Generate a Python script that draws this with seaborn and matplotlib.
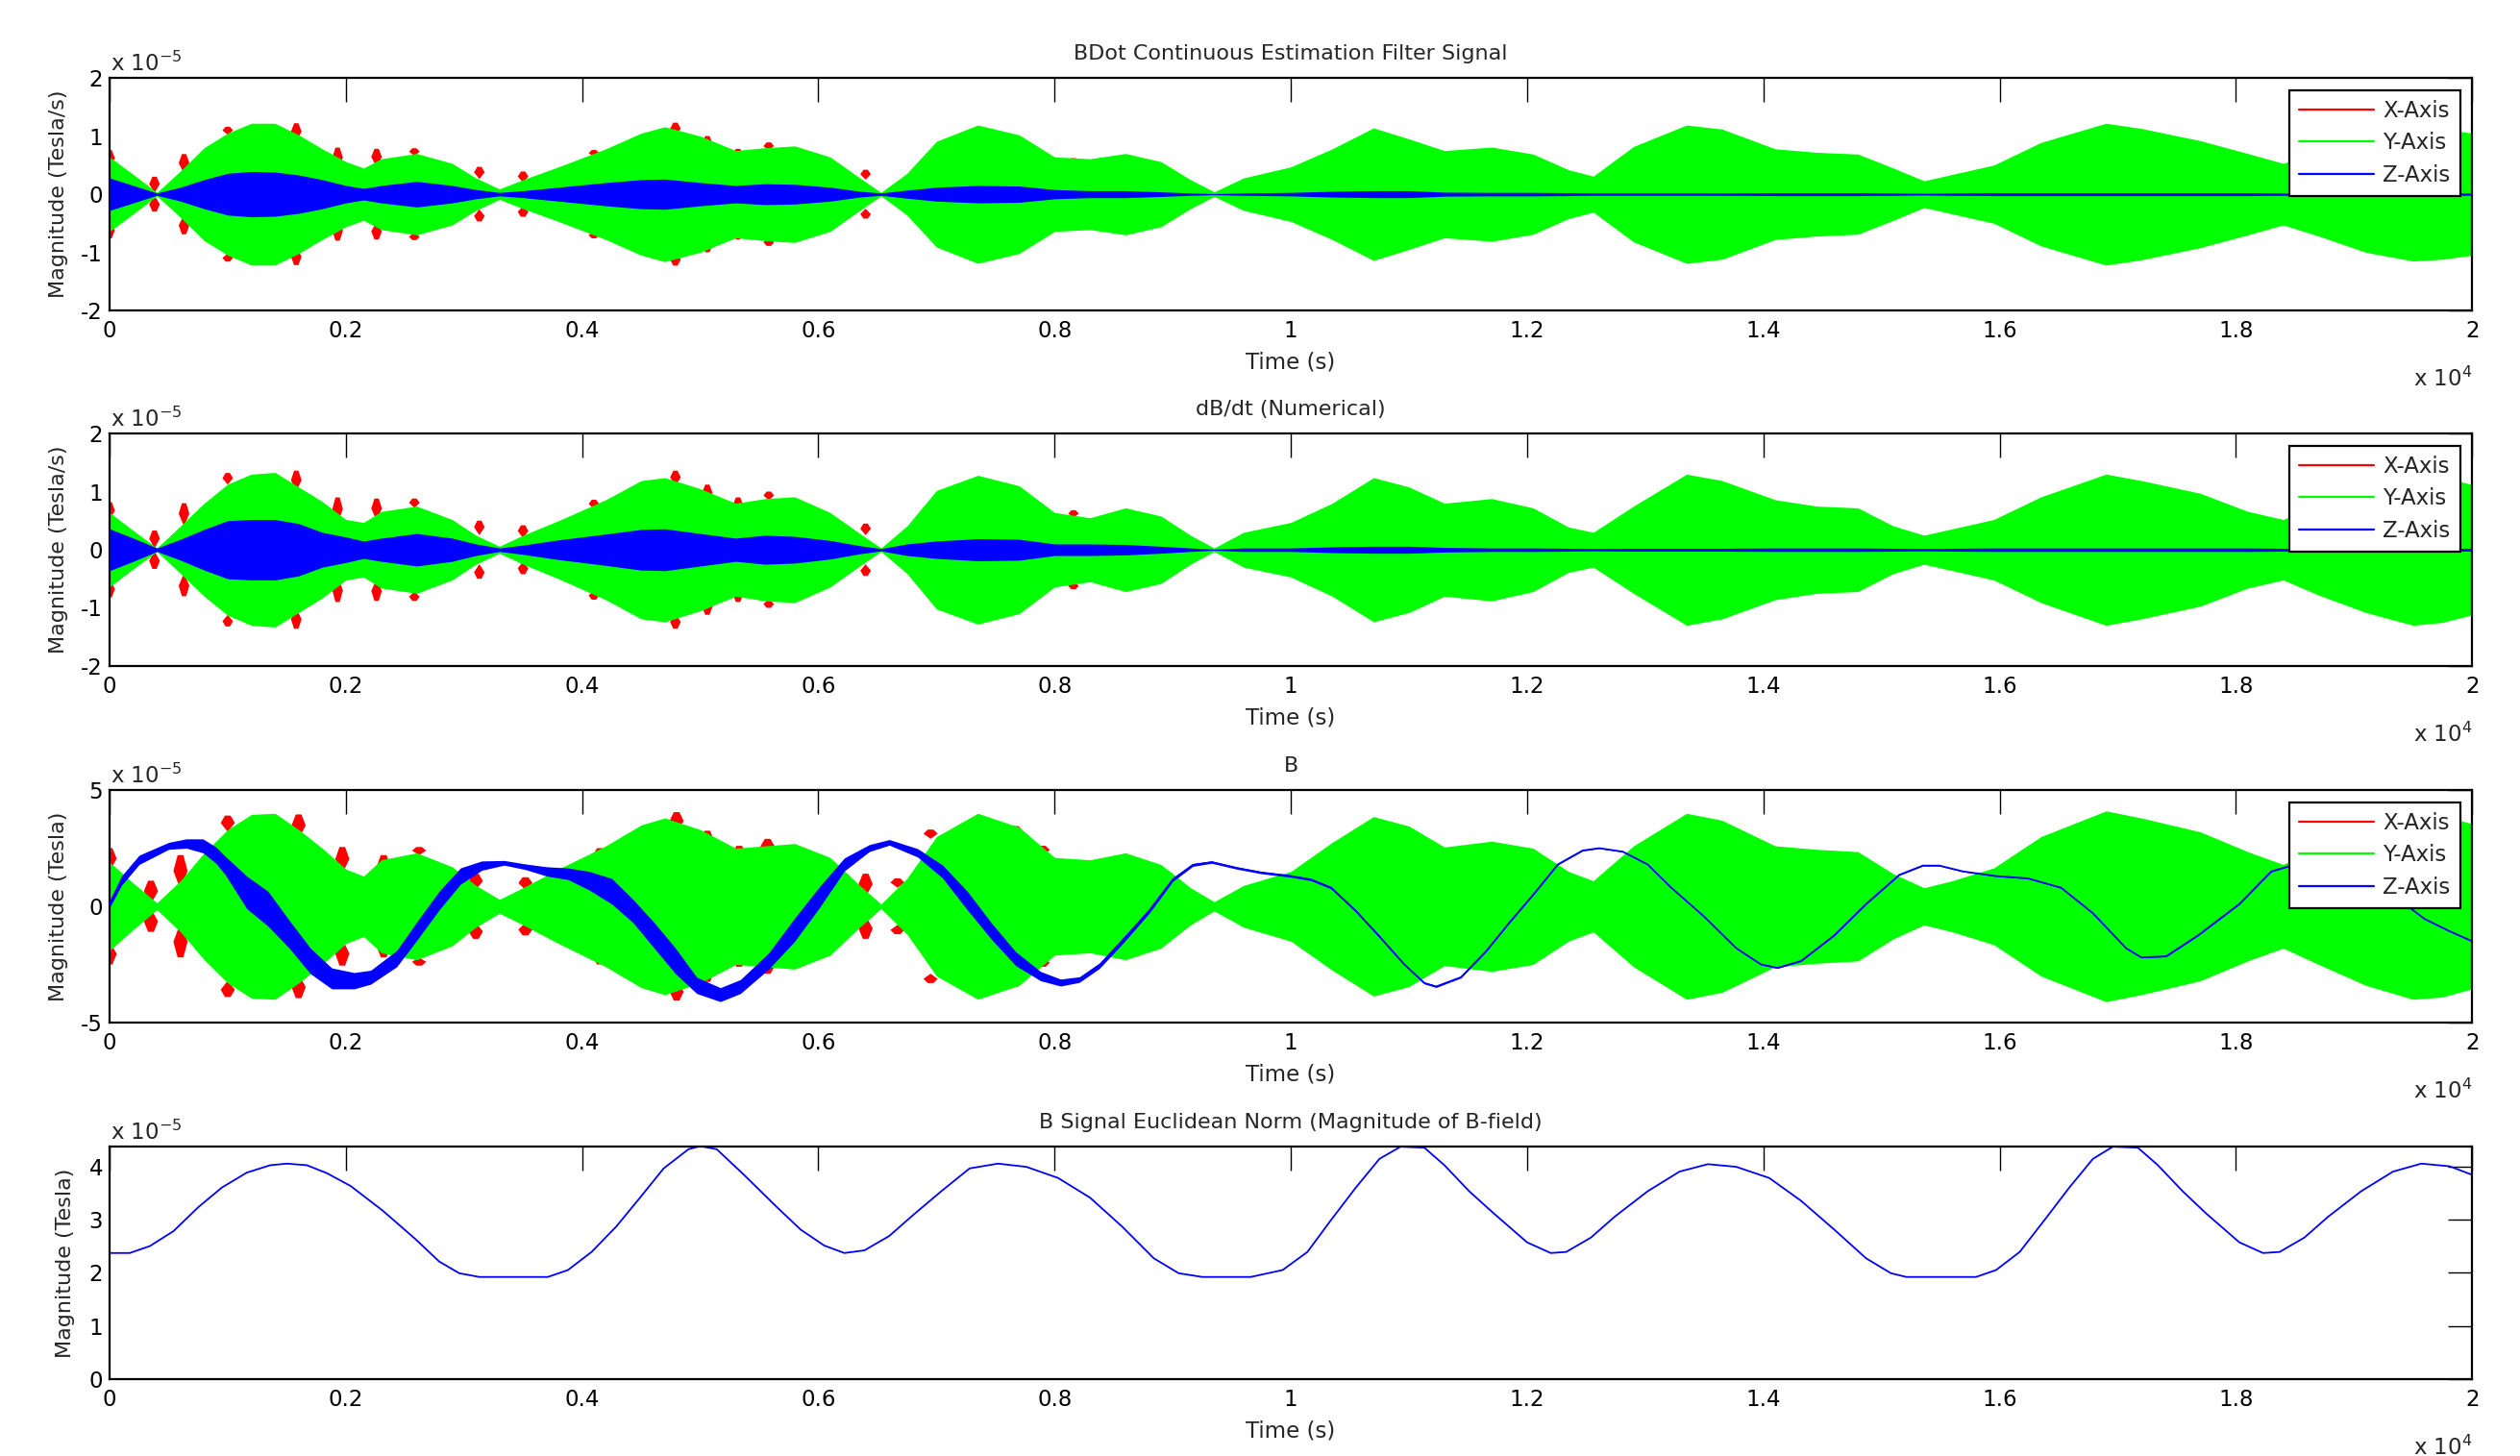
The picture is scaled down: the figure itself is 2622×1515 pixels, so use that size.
import numpy as np
import matplotlib
matplotlib.use('Agg')
import matplotlib.pyplot as plt
from matplotlib.lines import Line2D
import seaborn as sns

# time knots (x 10^4 s) at which the oscillation envelopes were read
env_t = [0, 0.02, 0.04, 0.06, 0.08, 0.10, 0.12, 0.14, 0.16, 0.18,
         0.20, 0.215, 0.23, 0.26, 0.29, 0.31, 0.33, 0.35, 0.38, 0.42,
         0.45, 0.47, 0.50, 0.53, 0.555, 0.58, 0.61, 0.635, 0.653, 0.675,
         0.70, 0.735, 0.77, 0.80, 0.83, 0.86, 0.89, 0.915, 0.935, 0.96,
         1.0, 1.035, 1.07, 1.1, 1.13, 1.17, 1.205, 1.235, 1.256, 1.29,
         1.335, 1.365, 1.41, 1.445, 1.48, 1.51, 1.536, 1.56, 1.595, 1.635,
         1.69, 1.72, 1.77, 1.81, 1.84, 1.87, 1.91, 1.95, 1.975, 2.0]

# Y-axis (green) envelope half height, x 10^-5
bdot_y = [0.64, 0.34, 0.03, 0.40, 0.80, 1.05, 1.22, 1.22, 1.02, 0.78,
          0.56, 0.45, 0.61, 0.70, 0.53, 0.28, 0.09, 0.25, 0.47, 0.78,
          1.05, 1.16, 1.00, 0.75, 0.80, 0.83, 0.64, 0.28, 0.03, 0.36,
          0.91, 1.19, 1.02, 0.64, 0.61, 0.70, 0.56, 0.25, 0.04, 0.28,
          0.47, 0.78, 1.14, 0.95, 0.75, 0.81, 0.69, 0.42, 0.31, 0.82,
          1.19, 1.12, 0.78, 0.72, 0.69, 0.45, 0.23, 0.34, 0.50, 0.89,
          1.22, 1.13, 0.92, 0.70, 0.53, 0.72, 1.00, 1.15, 1.12, 1.05]
dbdt_y = [0.64, 0.33, 0.03, 0.41, 0.80, 1.13, 1.30, 1.33, 1.08, 0.83,
          0.52, 0.47, 0.66, 0.75, 0.52, 0.25, 0.06, 0.25, 0.50, 0.86,
          1.19, 1.24, 1.05, 0.80, 0.88, 0.91, 0.64, 0.28, 0.03, 0.41,
          1.02, 1.28, 1.10, 0.64, 0.55, 0.72, 0.58, 0.25, 0.03, 0.30,
          0.47, 0.80, 1.24, 1.08, 0.80, 0.88, 0.72, 0.39, 0.30, 0.75,
          1.30, 1.19, 0.86, 0.75, 0.72, 0.41, 0.25, 0.36, 0.52, 0.91,
          1.30, 1.19, 0.97, 0.66, 0.52, 0.78, 1.08, 1.30, 1.25, 1.12]
b_y = [1.9, 1.0, 0.15, 1.1, 2.3, 3.3, 3.95, 4.0, 3.3, 2.5,
       1.6, 1.3, 2.0, 2.3, 1.7, 0.9, 0.3, 0.8, 1.6, 2.6,
       3.5, 3.8, 3.3, 2.5, 2.6, 2.7, 2.1, 0.9, 0.1, 1.2,
       3.0, 4.0, 3.4, 2.1, 2.0, 2.3, 1.8, 0.8, 0.2, 0.9,
       1.5, 2.75, 3.86, 3.45, 2.55, 2.8, 2.5, 1.5, 1.1, 2.6,
       4.0, 3.7, 2.6, 2.45, 2.35, 1.4, 0.8, 1.1, 1.65, 3.0,
       4.1, 3.8, 3.2, 2.35, 1.8, 2.5, 3.4, 4.0, 3.9, 3.55]

# Z-axis (blue) band half height in the two derivative panels
bdot_z = [0.28, 0.15, 0.02, 0.12, 0.25, 0.36, 0.39, 0.38, 0.33, 0.25,
          0.15, 0.10, 0.15, 0.22, 0.15, 0.08, 0.03, 0.06, 0.12, 0.20,
          0.25, 0.26, 0.20, 0.15, 0.18, 0.17, 0.12, 0.05, 0.02, 0.07,
          0.12, 0.15, 0.14, 0.08, 0.06, 0.06, 0.04, 0.02, 0.01, 0.02,
          0.03, 0.05, 0.06, 0.06, 0.035, 0.03, 0.03, 0.025, 0.02, 0.02,
          0.02, 0.02, 0.025, 0.025, 0.025, 0.02, 0.015, 0.02, 0.025, 0.025,
          0.025, 0.025, 0.025, 0.025, 0.02, 0.02, 0.02, 0.02, 0.02, 0.02]
dbdt_z = [0.36, 0.20, 0.03, 0.18, 0.35, 0.50, 0.52, 0.52, 0.45, 0.30,
          0.22, 0.15, 0.20, 0.28, 0.20, 0.10, 0.03, 0.08, 0.17, 0.27,
          0.35, 0.36, 0.28, 0.20, 0.25, 0.23, 0.16, 0.07, 0.02, 0.10,
          0.15, 0.19, 0.18, 0.10, 0.10, 0.09, 0.06, 0.03, 0.01, 0.03,
          0.03, 0.05, 0.06, 0.06, 0.04, 0.03, 0.03, 0.025, 0.02, 0.025,
          0.025, 0.025, 0.03, 0.03, 0.03, 0.025, 0.02, 0.025, 0.03, 0.03,
          0.03, 0.03, 0.03, 0.03, 0.025, 0.025, 0.025, 0.025, 0.025, 0.025]

# X-axis (red) bursts sticking out of the green band: time, inner, outer
dx_t = [0.0, 0.038, 0.063, 0.1, 0.158, 0.193, 0.226, 0.258, 0.313,
        0.35, 0.41, 0.479, 0.506, 0.532, 0.558, 0.64, 0.816]
bdot_x_lo = [0.45, 0.02, 0.35, 1.02, 0.9, 0.42, 0.47, 0.66, 0.26,
             0.2, 0.64, 1.0, 0.72, 0.53, 0.75, 0.25, 0.53]
bdot_x_hi = [0.76, 0.3, 0.69, 1.16, 1.22, 0.8, 0.78, 0.79, 0.47,
             0.39, 0.76, 1.23, 1.0, 0.78, 0.89, 0.42, 0.62]
dbdt_x_lo = [0.5, 0.02, 0.4, 1.12, 1.0, 0.45, 0.5, 0.72, 0.25,
             0.2, 0.7, 1.1, 0.8, 0.6, 0.85, 0.25, 0.55]
dbdt_x_hi = [0.82, 0.33, 0.8, 1.32, 1.36, 0.9, 0.88, 0.88, 0.5,
             0.42, 0.86, 1.36, 1.12, 0.9, 1.0, 0.45, 0.68]
b_x_t = [0.0, 0.035, 0.06, 0.1, 0.16, 0.197, 0.232, 0.262, 0.31, 0.352, 0.415,
         0.48, 0.506, 0.533, 0.557, 0.64, 0.667, 0.695, 0.767, 0.79, 0.813]
b_x_lo = [1.5, 0.1, 0.7, 3.2, 2.9, 1.4, 1.1, 2.2, 0.7, 0.7, 1.8,
          3.2, 2.2, 1.8, 2.2, 0.4, 0.8, 2.9, 3.0, 2.2, 1.65]
b_x_hi = [2.5, 1.1, 2.2, 3.9, 3.95, 2.55, 2.2, 2.55, 1.4, 1.25, 2.5,
          4.05, 3.25, 2.6, 2.9, 1.4, 1.2, 3.3, 3.45, 2.6, 2.0]

# B field Z-axis: centre line and band half height
bz_t = [0.0, 0.01, 0.025, 0.05, 0.065, 0.079, 0.09, 0.098, 0.116, 0.134,
        0.152, 0.17, 0.188, 0.207, 0.221, 0.243, 0.261, 0.279, 0.297, 0.315,
        0.334, 0.352, 0.37, 0.388, 0.406, 0.425, 0.443, 0.461, 0.479, 0.497,
        0.517, 0.534, 0.558, 0.58, 0.601, 0.622, 0.643, 0.66, 0.684, 0.705,
        0.726, 0.747, 0.767, 0.788, 0.805, 0.821, 0.838, 0.859, 0.88, 0.9,
        0.917, 0.933, 0.954, 0.975, 1.0, 1.017, 1.034, 1.055, 1.075, 1.096,
        1.113, 1.123, 1.144, 1.165, 1.185, 1.206, 1.226, 1.247, 1.261, 1.281,
        1.302, 1.322, 1.35, 1.377, 1.398, 1.412, 1.432, 1.46, 1.487, 1.515,
        1.535, 1.549, 1.569, 1.597, 1.624, 1.652, 1.679, 1.707, 1.72, 1.741,
        1.768, 1.803, 1.83, 1.86, 1.885, 1.91, 1.935, 1.96, 1.98, 2.0]
bz_mid = [0.1, 1.1, 2.0, 2.6, 2.7, 2.6, 2.2, 1.75, 0.6, -0.1,
          -1.2, -2.35, -3.1, -3.2, -3.05, -2.25, -1.0, 0.25, 1.3, 1.75,
          1.87, 1.7, 1.5, 1.4, 1.1, 0.65, -0.2, -1.25, -2.35, -3.4,
          -3.8, -3.45, -2.35, -1.0, 0.4, 1.8, 2.5, 2.75, 2.3, 1.5,
          0.25, -1.1, -2.25, -3.0, -3.28, -3.15, -2.55, -1.4, -0.2, 1.15,
          1.78, 1.9, 1.65, 1.45, 1.3, 1.15, 0.8, -0.2, -1.3, -2.5,
          -3.3, -3.45, -3.05, -1.95, -0.7, 0.55, 1.8, 2.4, 2.5, 2.35,
          1.8, 0.8, -0.45, -1.8, -2.5, -2.65, -2.35, -1.25, 0.1, 1.35,
          1.75, 1.75, 1.5, 1.3, 1.2, 0.8, -0.3, -1.8, -2.2, -2.15,
          -1.25, 0.1, 1.5, 1.95, 1.95, 1.4, 0.4, -0.55, -1.05, -1.5]
bz_half = [0.15, 0.2, 0.2, 0.15, 0.2, 0.3, 0.35, 0.4, 0.7, 0.75,
           0.6, 0.55, 0.45, 0.35, 0.3, 0.35, 0.4, 0.4, 0.35, 0.2,
           0.1, 0.12, 0.2, 0.25, 0.4, 0.55, 0.5, 0.55, 0.55, 0.35,
           0.3, 0.3, 0.35, 0.5, 0.45, 0.28, 0.15, 0.12, 0.18, 0.28,
           0.4, 0.35, 0.3, 0.2, 0.15, 0.12, 0.12, 0.12, 0.1, 0.08,
           0.06, 0.05, 0.05, 0.05, 0.05, 0.05, 0.05, 0.05, 0.05, 0.04,
           0.04, 0.04, 0.03, 0.02, 0.02, 0.02, 0.02, 0.02, 0.02, 0.02,
           0.02, 0.02, 0.02, 0.02, 0.02, 0.02, 0.02, 0.02, 0.02, 0.02,
           0.02, 0.02, 0.02, 0.02, 0.02, 0.02, 0.02, 0.02, 0.02, 0.02,
           0.02, 0.02, 0.02, 0.02, 0.02, 0.02, 0.02, 0.02, 0.02, 0.02]

# Euclidean norm of B, x 10^-5 T
norm_t = [0, 0.017, 0.034, 0.054, 0.075, 0.095, 0.116, 0.136, 0.15, 0.167,
          0.184, 0.204, 0.231, 0.259, 0.279, 0.296, 0.313, 0.34, 0.371, 0.388,
          0.408, 0.429, 0.449, 0.469, 0.49, 0.5, 0.514, 0.537, 0.565, 0.585,
          0.605, 0.622, 0.639, 0.66, 0.68, 0.704, 0.728, 0.752, 0.776, 0.803,
          0.83, 0.857, 0.884, 0.905, 0.925, 0.966, 0.993, 1.014, 1.034, 1.055,
          1.075, 1.093, 1.113, 1.13, 1.151, 1.172, 1.2, 1.22, 1.233, 1.254,
          1.274, 1.302, 1.329, 1.353, 1.377, 1.405, 1.432, 1.46, 1.487, 1.508,
          1.521, 1.58, 1.597, 1.617, 1.638, 1.659, 1.679, 1.696, 1.717, 1.734,
          1.755, 1.775, 1.803, 1.823, 1.837, 1.858, 1.878, 1.906, 1.933, 1.957,
          1.981, 2.0]
norm_val = [2.37, 2.37, 2.5, 2.78, 3.23, 3.6, 3.88, 4.02, 4.05, 4.02,
            3.87, 3.63, 3.17, 2.63, 2.21, 1.99, 1.92, 1.92, 1.92, 2.05,
            2.39, 2.87, 3.41, 3.96, 4.32, 4.38, 4.32, 3.84, 3.23, 2.81,
            2.51, 2.37, 2.42, 2.69, 3.08, 3.53, 3.96, 4.05, 3.99, 3.78,
            3.41, 2.87, 2.27, 1.99, 1.92, 1.92, 2.05, 2.39, 2.99, 3.6,
            4.14, 4.37, 4.35, 4.02, 3.53, 3.11, 2.57, 2.37, 2.39, 2.66,
            3.05, 3.53, 3.9, 4.04, 3.99, 3.78, 3.35, 2.81, 2.27, 1.99,
            1.92, 1.92, 2.05, 2.39, 2.99, 3.6, 4.14, 4.37, 4.35, 4.02,
            3.53, 3.11, 2.57, 2.37, 2.39, 2.66, 3.05, 3.53, 3.9, 4.05,
            4.0, 3.84]

titles = ['BDot Continuous Estimation Filter Signal', 'dB/dt (Numerical)', 'B',
          'B Signal Euclidean Norm (Magnitude of B-field)']
ylabels = ['Magnitude (Tesla/s)', 'Magnitude (Tesla/s)', 'Magnitude (Tesla)', 'Magnitude (Tesla)']
xticks = [0, 0.2, 0.4, 0.6, 0.8, 1.0, 1.2, 1.4, 1.6, 1.8, 2.0]
xticklabels = ['0', '0.2', '0.4', '0.6', '0.8', '1', '1.2', '1.4', '1.6', '1.8', '2']
yticks = [[-2, -1, 0, 1, 2], [-2, -1, 0, 1, 2], [-5, 0, 5], [0, 1, 2, 3, 4]]
ylims = [(-2, 2), (-2, 2), (-5, 5), (0, 4.37)]
legend_labels = ['X-Axis', 'Y-Axis', 'Z-Axis']

RED, GREEN, BLUE = '#ff0000', '#00ff00', '#0000ff'

sns.set_style('white')
plt.rcParams['font.family'] = ['DejaVu Sans']
plt.rcParams['mathtext.default'] = 'regular'
plt.rcParams['axes.unicode_minus'] = False

fig = plt.figure(figsize=(26.22, 15.15), dpi=100)
bottoms = [0.7868, 0.5426, 0.2977, 0.0528]
axes = [fig.add_axes([0.0435, b, 0.9375, 0.1597]) for b in bottoms]


def bursts(ax, t, lo, hi, w=0.0045):
    # red X-axis excursions, mirrored above and below zero
    for tc, a, b in zip(t, lo, hi):
        for s in (1, -1):
            ax.fill([tc, tc + w, tc + 0.4 * w, tc - 0.4 * w, tc - w],
                    [s * a, s * (0.45 * a + 0.55 * b), s * b, s * b, s * (0.45 * a + 0.55 * b)],
                    color=RED, lw=0, zorder=1)


def band(ax, t, half, color, z):
    half = np.asarray(half)
    ax.fill_between(t, -half, half, color=color, lw=0, zorder=z)


# panel 1 and 2: derivative signals
for ax, yv, zv, lo, hi in [(axes[0], bdot_y, bdot_z, bdot_x_lo, bdot_x_hi),
                           (axes[1], dbdt_y, dbdt_z, dbdt_x_lo, dbdt_x_hi)]:
    bursts(ax, dx_t, lo, hi)
    band(ax, env_t, yv, GREEN, 2)
    band(ax, env_t, zv, BLUE, 3)

# panel 3: B field
bursts(axes[2], b_x_t, b_x_lo, b_x_hi, w=0.006)
band(axes[2], env_t, b_y, GREEN, 2)
bz_mid_a = np.asarray(bz_mid)
bz_half_a = np.asarray(bz_half)
axes[2].fill_between(bz_t, bz_mid_a - bz_half_a, bz_mid_a + bz_half_a, color=BLUE, lw=0, zorder=3)
sns.lineplot(x=bz_t, y=bz_mid, ax=axes[2], color=BLUE, lw=1.3, zorder=4)

# panel 4: norm
sns.lineplot(x=norm_t, y=norm_val, ax=axes[3], color=BLUE, lw=1.3)

handles = [Line2D([], [], color=c, lw=1.6) for c in (RED, GREEN, BLUE)]

for i, ax in enumerate(axes):
    ax.set_xlim(0, 2)
    ax.set_ylim(*ylims[i])
    ax.set_xticks(xticks)
    ax.set_xticklabels(xticklabels)
    ax.set_yticks(yticks[i])
    ax.set_yticklabels([str(v) for v in yticks[i]])
    ax.tick_params(direction='in', length=18, width=1.0, top=True, right=True,
                   labelsize=16.5, pad=7, colors='black')
    ax.tick_params(axis='y', pad=5)
    for sp in ax.spines.values():
        sp.set_linewidth(1.6)
        sp.set_color('black')
        sp.set_visible(True)
    ax.set_title(titles[i], fontsize=16, pad=14)
    ax.set_xlabel('Time (s)', fontsize=16.5, labelpad=7)
    ax.set_ylabel(ylabels[i], fontsize=16)
    ax.yaxis.set_label_coords(-0.0175 if i < 3 else -0.0145, 0.5)
    ax.annotate('x 10$^{-5}$', xy=(0, 1), xycoords='axes fraction', xytext=(1, 5),
                textcoords='offset points', ha='left', va='baseline', fontsize=16.5)
    ax.annotate('x 10$^{4}$', xy=(1, 0), xycoords='axes fraction', xytext=(0, -57),
                textcoords='offset points', ha='right', va='baseline', fontsize=16.5)
    if i < 3:
        leg = ax.legend(handles, legend_labels, loc='upper right', fontsize=16.5,
                        handlelength=3.4, handletextpad=0.4, labelspacing=0.45,
                        borderpad=0.45, borderaxespad=0.55, fancybox=False,
                        framealpha=1, edgecolor='black')
        leg.get_frame().set_linewidth(1.6)
        leg.set_zorder(10)
    elif ax.get_legend() is not None:
        ax.get_legend().remove()

fig.savefig('out.png', dpi=100, facecolor='white')
